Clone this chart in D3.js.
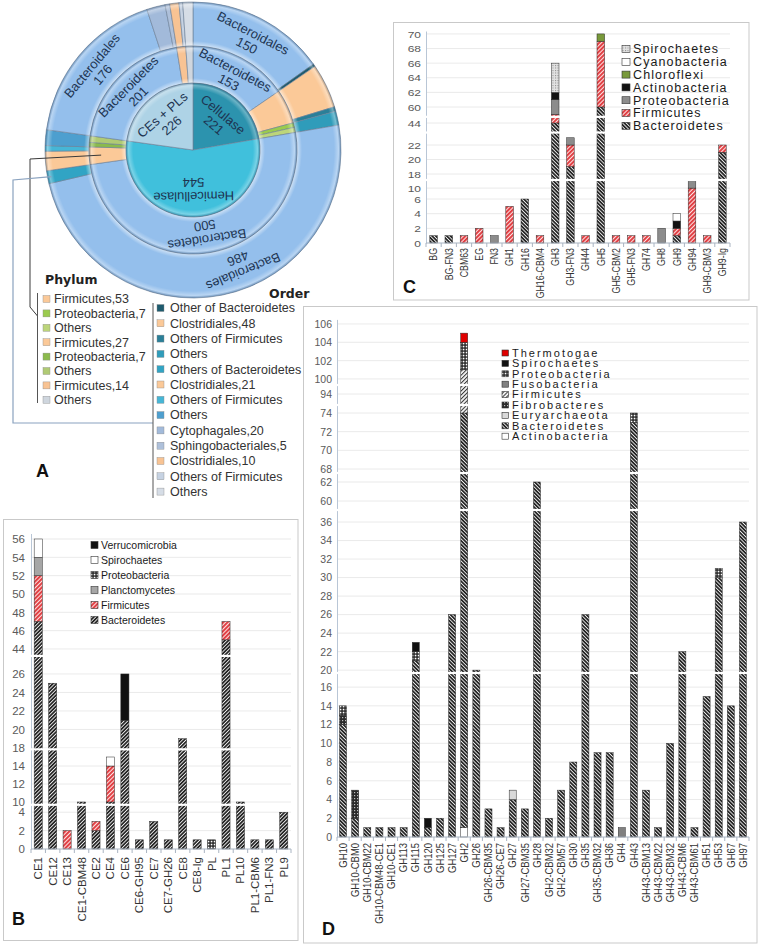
<!DOCTYPE html>
<html><head><meta charset="utf-8">
<script src="https://cdn.jsdelivr.net/npm/d3@7/dist/d3.min.js"></script>
<style>html,body{margin:0;padding:0;background:#fff;}svg{display:block;font-family:"Liberation Sans",Arial,sans-serif;}</style>
</head><body><svg id="fig" width="762" height="947"></svg>
<script>
// ================= DATA =================
// Panel A (sunburst): enzyme class -> phylum -> order
const enzymeClasses = ["Cellulase", "Hemicellulase", "CEs + PLs"];
const enzymeCounts = [221, 544, 226];
const phylumNames = ["Bacteroidetes","Firmicutes","Proteobacteria","Others",
                     "Bacteroidetes","Firmicutes","Proteobacteria","Others",
                     "Bacteroidetes","Firmicutes","Others"];
const phylumCounts = [153, 53, 7, 8, 500, 27, 7, 10, 201, 14, 11];
const orderNames = ["Bacteroidales","Other of Bacteroidetes","Clostridiales","Others of Firmicutes","Others",
                    "Bacteroidales","Others of Bacteroidetes","Clostridiales","Others of Firmicutes","Others",
                    "Bacteroidales","Cytophagales","Sphingobacteriales","Clostridiales","Others of Firmicutes","Others"];
const orderCounts = [150, 3, 48, 5, 15, 486, 14, 21, 6, 17, 176, 20, 5, 10, 4, 11];
const phylumLegend = ["Firmicutes,53","Proteobacteria,7","Others","Firmicutes,27","Proteobacteria,7","Others","Firmicutes,14","Others"];
const orderLegend = ["Other of Bacteroidetes","Clostridiales,48","Others of Firmicutes","Others","Others of Bacteroidetes","Clostridiales,21","Others of Firmicutes","Others","Cytophagales,20","Sphingobacteriales,5","Clostridiales,10","Others of Firmicutes","Others"];

// Panel B
const bCategories = ["CE1","CE12","CE13","CE1-CBM48","CE2","CE4","CE6","CE6-GH95","CE7","CE7-GH26","CE8","CE8-Ig","PL","PL1","PL10","PL1-CBM6","PL1-FN3","PL9"];
const bBacteroidetes   = [47,25,0,10,2,10,21,1,3,1,19,1,0,45,10,1,1,4];
const bFirmicutes      = [5,0,2,0,1,4,0,0,0,0,0,0,0,2,0,0,0,0];
const bPlanctomycetes  = [2,0,0,0,0,0,0,0,0,0,0,0,0,0,0,0,0,0];
const bProteobacteria  = [0,0,0,0,0,0,0,0,0,0,0,0,1,0,0,0,0,0];
const bSpirochaetes    = [2,0,0,0,0,1,0,0,0,0,0,0,0,0,0,0,0,0];
const bVerrucomicrobia = [0,0,0,0,0,0,5,0,0,0,0,0,0,0,0,0,0,0];
const bTicks = [0,2,4,10,12,14,18,20,22,24,26,44,46,48,50,52,54,56];

// Panel C
const cCategories = ["BG","BG-FN3","CBM63","EG","FN3","GH1","GH16","GH16-CBM4","GH3","GH3-FN3","GH44","GH5","GH5-CBM2","GH5-FN3","GH74","GH8","GH9","GH94","GH9-CBM3","GH9-Ig"];
const cBacteroidetes  = [1,1,0,0,0,0,6,0,44,19,0,60,0,0,0,0,1,0,0,21];
const cFirmicutes     = [0,0,1,2,0,5,0,1,15,3,1,9,1,1,1,0,1,10,1,1];
const cProteobacteria = [0,0,0,0,1,0,0,0,2,1,0,0,0,0,0,2,0,1,0,0];
const cActinobacteria = [0,0,0,0,0,0,0,0,1,0,0,0,0,0,0,0,1,0,0,0];
const cChloroflexi    = [0,0,0,0,0,0,0,0,0,0,0,1,0,0,0,0,0,0,0,0];
const cCyanobacteria  = [0,0,0,0,0,0,0,0,0,0,0,0,0,0,0,0,1,0,0,0];
const cSpirochaetes   = [0,0,0,0,0,0,0,0,4,0,0,0,0,0,0,0,0,0,0,0];
const cTicks = [0,2,4,6,10,18,20,22,44,60,62,64,66,68,70];

// Panel D
const dCategories = ["GH10","GH10-CBM0","GH10-CBM22","GH10-CBM48-CE1","GH10-CE1","GH113","GH115","GH120","GH125","GH127","GH2","GH26","GH26-CBM35","GH26-CE7","GH27","GH27-CBM35","GH28","GH2-CBM32","GH2-CBM57","GH30","GH35","GH35-CBM32","GH36","GH4","GH43","GH43-CBM13","GH43-CBM22","GH43-CBM32","GH43-CBM6","GH43-CBM61","GH51","GH53","GH67","GH97"];
const dActinobacteria = [0,0,0,0,0,0,0,0,0,0,1,0,0,0,0,0,0,0,0,0,0,0,0,0,0,0,0,0,0,0,0,0,0,0];
const dBacteroidetes  = [12,2,1,1,1,1,21,1,2,26,73,20,3,1,4,3,62,2,5,8,26,9,9,0,73,5,1,10,22,1,15,30,14,36];
const dEuryarchaeota  = [0,0,0,0,0,0,0,0,0,0,0,0,0,0,1,0,0,0,0,0,0,0,0,0,0,0,0,0,0,0,0,0,0,0];
const dFibrobacteres  = [1,3,0,0,0,0,0,0,0,0,0,0,0,0,0,0,0,0,0,0,0,0,0,0,0,0,0,0,0,0,0,0,0,0];
const dFirmicutes     = [0,0,0,0,0,0,0,0,0,0,27,0,0,0,0,0,0,0,0,0,0,0,0,0,0,0,0,0,0,0,0,0,0,0];
const dFusobacteria   = [0,0,0,0,0,0,0,0,0,0,0,0,0,0,0,0,0,0,0,0,0,0,0,1,0,0,0,0,0,0,0,0,0,0];
const dProteobacteria = [1,0,0,0,0,0,1,0,0,0,3,0,0,0,0,0,0,0,0,0,0,0,0,0,1,0,0,0,0,0,0,1,0,0];
const dSpirochaetes   = [0,0,0,0,0,0,1,1,0,0,0,0,0,0,0,0,0,0,0,0,0,0,0,0,0,0,0,0,0,0,0,0,0,0];
const dThermotogae    = [0,0,0,0,0,0,0,0,0,0,1,0,0,0,0,0,0,0,0,0,0,0,0,0,0,0,0,0,0,0,0,0,0,0];
const dTicks = [0,2,4,6,8,10,12,14,16,20,22,24,26,28,30,32,34,36,60,62,68,70,72,74,94,100,102,104,106];

// ================= STYLES =================
const enzymeColors = ["#2C93AE","#40C0DC","#AED3E6"];
const phylumColors = ["#94BFEC","#FBC998","#9BCB4E","#BCD57A","#94BFEC","#FBC998","#8BBA4C","#B0CA74","#94BFEC","#F8C393","#CFD6DE"];
const orderColors = ["#94BFEC","#1E5B6E","#FBC998","#2A7F98","#2F9CBA","#94BFEC","#31A4C4","#FBC998","#46B6D6","#4D9FCF","#94BFEC","#A2BADA","#AEC0DA","#F8C393","#C6D2E2","#D6DDE6"];

const svg = d3.select("#fig");
const defs = svg.append("defs");
function stripes(id, bg, fg, size, sw, angle){
  const p = defs.append("pattern").attr("id",id).attr("patternUnits","userSpaceOnUse")
    .attr("width",size).attr("height",size).attr("patternTransform",`rotate(${angle})`);
  p.append("rect").attr("width",size).attr("height",size).attr("fill",bg);
  p.append("rect").attr("width",sw).attr("height",size).attr("fill",fg);
}
function dots(id,bg,fg,size,ds){
  const p = defs.append("pattern").attr("id",id).attr("patternUnits","userSpaceOnUse").attr("width",size).attr("height",size);
  p.append("rect").attr("width",size).attr("height",size).attr("fill",bg);
  p.append("rect").attr("width",ds).attr("height",ds).attr("fill",fg);
}
stripes("bactF","#fff","#262626",2.6,1.8,45);
stripes("bactBk","#fff","#262626",2.6,1.8,-45);
stripes("firmR","#fde0e0","#e0393e",3,1.9,45);
stripes("firmG","#fff","#3a3a3a",2.8,1.1,45);
(function(){
  const p = defs.append("pattern").attr("id","gridP").attr("patternUnits","userSpaceOnUse").attr("width",3).attr("height",3);
  p.append("rect").attr("width",3).attr("height",3).attr("fill","#1e1e1e");
  p.append("rect").attr("x",0.7).attr("y",0.7).attr("width",1.7).attr("height",1.7).attr("fill","#fff");
})();
dots("fibro","#2a2a2a","#c0c0c0",3,1.2);
dots("spiroC","#e2e2e2","#8a8a8a",2.5,1);

// ================= BAR CHART HELPER =================
function stackedBars(cfg){
  const g = svg.append("g");
  g.append("rect").attr("x",cfg.frame[0]).attr("y",cfg.frame[1]).attr("width",cfg.frame[2]).attr("height",cfg.frame[3])
    .attr("fill","#fff").attr("stroke","#c9c9c9").attr("stroke-width",1);
  const x = d3.scaleBand().domain(cfg.cats).range(cfg.xRange).paddingInner(cfg.pad).paddingOuter(cfg.pad/2);
  const dom=[], rng=[];
  cfg.segs.forEach(s=>{dom.push(s[0],s[1]); rng.push(s[2],s[3]);});
  const y = d3.scaleLinear().domain(dom).range(rng);
  // gridlines
  g.selectAll(null).data(cfg.ticks.filter(t=>t>0)).join("line")
    .attr("x1",cfg.xRange[0]).attr("x2",cfg.xRange[1]).attr("y1",d=>y(d)).attr("y2",d=>y(d))
    .attr("stroke","#e4e4e4").attr("stroke-width",0.8);
  // y axis
  const ya = g.append("g").attr("transform",`translate(${cfg.xRange[0]},0)`)
    .call(d3.axisLeft(y).tickValues(cfg.ticks).tickSize(0).tickPadding(cfg.tickPad||5).tickFormat(d3.format("d")));
  ya.select(".domain").attr("stroke","#b9c6d6");
  ya.selectAll("text").attr("font-size",cfg.tickFont).attr("fill","#5a5a5a")
    .attr("font-family","'Liberation Sans',Arial,sans-serif")
    .attr("transform",cfg.tickScaleY?`scale(1,${cfg.tickScaleY})`:null);
  // stacked bars
  const keys = cfg.series.map(s=>s.name);
  const rows = cfg.cats.map((c,i)=>{const o={cat:c}; cfg.series.forEach(s=>o[s.name]=s.values[i]); return o;});
  const layers = d3.stack().keys(keys)(rows);
  layers.forEach((layer,li)=>{
    g.selectAll(null).data(layer.filter(d=>d[1]>d[0])).join("rect")
      .attr("x",d=>x(d.data.cat)).attr("width",x.bandwidth())
      .attr("y",d=>y(d[1])).attr("height",d=>y(d[0])-y(d[1]))
      .attr("fill",cfg.series[li].fill).attr("stroke","#2a2a2a").attr("stroke-width",0.5);
  });
  // baseline and category ticks
  const y0 = y(0);
  g.append("line").attr("x1",cfg.xRange[0]).attr("x2",cfg.xRange[1]).attr("y1",y0).attr("y2",y0).attr("stroke","#a9b4c2");
  g.selectAll(null).data(d3.range(cfg.cats.length+1)).join("line")
    .attr("x1",i=>cfg.xRange[0]+i*x.step()).attr("x2",i=>cfg.xRange[0]+i*x.step())
    .attr("y1",y0).attr("y2",y0+4).attr("stroke","#a9b4c2");
  // breaks
  for(let i=1;i<cfg.segs.length;i++){
    if(cfg.noBreak && cfg.noBreak.includes(i)) continue;
    const a = cfg.segs[i][2], b = cfg.segs[i-1][3];
    const mid=(a+b)/2, h=Math.max(2.2,b-a);
    g.append("rect").attr("x",cfg.xRange[0]-6).attr("width",cfg.xRange[1]-cfg.xRange[0]+6)
      .attr("y",mid-h/2).attr("height",h).attr("fill","#fff");
  }
  // x labels
  const sx = cfg.labelScale||1;
  const xa = g.append("g").attr("transform",`translate(0,${y0})`)
    .call(d3.axisBottom(x).tickSize(0));
  xa.select(".domain").remove();
  xa.selectAll("text").attr("font-size",cfg.labelFont).attr("fill","#333")
    .attr("font-family","'Liberation Sans',Arial,sans-serif")
    .attr("text-anchor","end").attr("y",0).attr("x",-cfg.labelOff/sx).attr("dy","0.35em")
    .attr("transform",`rotate(-90) scale(${sx},1)`);
  // legend
  const L = cfg.legend;
  const lg = g.append("g");
  L.items.forEach((nm,i)=>{
    const s = cfg.series.find(q=>q.name===nm);
    const yy = L.y + i*L.step;
    lg.append("rect").attr("x",L.x).attr("y",yy-L.mh/2).attr("width",L.mw).attr("height",L.mh)
      .attr("fill",s.fill).attr("stroke","#333").attr("stroke-width",0.6);
    lg.append("text").attr("x",L.tx).attr("y",yy).attr("dy","0.35em").attr("font-size",L.font)
      .attr("letter-spacing",L.ls||0).attr("fill","#1a1a1a").text(nm);
  });
  return {x,y,g};
}

// ================= PANEL B =================
stackedBars({
  frame:[3.5,519.5,294.5,421],
  cats:bCategories, xRange:[31,291], pad:0.44,
  segs:[[0,4.7,849,805.8],[9.8,15.8,803.8,749.8],[17.9,27.9,748.9,656.4],[43.3,56.6,655.4,533.5]],
  ticks:bTicks, tickFont:11.5, tickPad:6,
  series:[
    {name:"Bacteroidetes",values:bBacteroidetes,fill:"url(#bactF)"},
    {name:"Firmicutes",values:bFirmicutes,fill:"url(#firmR)"},
    {name:"Planctomycetes",values:bPlanctomycetes,fill:"#a6a6a6"},
    {name:"Proteobacteria",values:bProteobacteria,fill:"url(#gridP)"},
    {name:"Spirochaetes",values:bSpirochaetes,fill:"#fff"},
    {name:"Verrucomicrobia",values:bVerrucomicrobia,fill:"#111"}
  ],
  labelFont:11.5, labelOff:8,
  legend:{items:["Verrucomicrobia","Spirochaetes","Proteobacteria","Planctomycetes","Firmicutes","Bacteroidetes"],
          x:91,y:545,step:15,mw:7,mh:7,tx:101,font:10.5}
});

// ================= PANEL C =================
stackedBars({
  frame:[393.5,22.5,355.5,277.5],
  cats:cCategories, xRange:[426,730], pad:0.5,
  segs:[[0,7,243,191.7],[9.5,11.1,191.7,180.2],[17.2,23.6,179.8,133.4],[42.8,44.8,131.7,117.2],[58.7,70.4,116.5,31]],
  noBreak:[1],
  ticks:cTicks, tickFont:12, tickPad:5, tickScaleY:0.8,
  series:[
    {name:"Bacteroidetes",values:cBacteroidetes,fill:"url(#bactBk)"},
    {name:"Firmicutes",values:cFirmicutes,fill:"url(#firmR)"},
    {name:"Proteobacteria",values:cProteobacteria,fill:"#8c8c8c"},
    {name:"Actinobacteria",values:cActinobacteria,fill:"#111"},
    {name:"Chloroflexi",values:cChloroflexi,fill:"#78993a"},
    {name:"Cyanobacteria",values:cCyanobacteria,fill:"#fff"},
    {name:"Spirochaetes",values:cSpirochaetes,fill:"url(#spiroC)"}
  ],
  labelFont:11, labelOff:5, labelScale:0.8,
  legend:{items:["Spirochaetes","Cyanobacteria","Chloroflexi","Actinobacteria","Proteobacteria","Firmicutes","Bacteroidetes"],
          x:622,y:49,step:12.8,mw:8,mh:7,tx:633,font:12.5,ls:1.1}
});

// ================= PANEL D =================
stackedBars({
  frame:[303.5,306.5,453.5,636.5],
  cats:dCategories, xRange:[337,749], pad:0.42,
  segs:[[0,17.4,837,674],[19.8,37.19,672,511],[59.16,62.84,509,474],[67.68,74.75,472,406],[92.93,94.86,404,386],[99.45,106.5,384,319.4]],
  ticks:dTicks, tickFont:10.5, tickPad:5,
  series:[
    {name:"Actinobacteria",values:dActinobacteria,fill:"#fff"},
    {name:"Bacteroidetes",values:dBacteroidetes,fill:"url(#bactBk)"},
    {name:"Euryarchaeota",values:dEuryarchaeota,fill:"#d9d9d9"},
    {name:"Fibrobacteres",values:dFibrobacteres,fill:"url(#fibro)"},
    {name:"Firmicutes",values:dFirmicutes,fill:"url(#firmG)"},
    {name:"Fusobacteria",values:dFusobacteria,fill:"#808080"},
    {name:"Proteobacteria",values:dProteobacteria,fill:"url(#gridP)"},
    {name:"Spirochaetes",values:dSpirochaetes,fill:"#111"},
    {name:"Thermotogae",values:dThermotogae,fill:"#e00000"}
  ],
  labelFont:10.5, labelOff:6, labelScale:0.9,
  legend:{items:["Thermotogae","Spirochaetes","Proteobacteria","Fusobacteria","Firmicutes","Fibrobacteres","Euryarchaeota","Bacteroidetes","Actinobacteria"],
          x:502,y:353,step:10.4,mw:6.5,mh:6,tx:512,font:11,ls:2}
});

// ================= PANEL A =================
const cx=193, cy=150, R=[0,67,104,148];
const gA = svg.append("g").attr("transform",`translate(${cx},${cy})`);
const pie = d3.pie().sort(null).value(d=>d);
const innerArcs = pie(enzymeCounts), phylumArcs = pie(phylumCounts), orderArcs = pie(orderCounts);
function ring(arcs, colors, r0, r1){
  const arc = d3.arc().innerRadius(r0).outerRadius(r1);
  gA.append("g").selectAll("path").data(arcs).join("path")
    .attr("d",arc).attr("fill",(d,i)=>colors[i]).attr("stroke","#6a7d96").attr("stroke-width",0.6);
}
function bevel(id, r0, r1){
  const gr = defs.append("radialGradient").attr("id",id).attr("gradientUnits","userSpaceOnUse")
    .attr("cx",0).attr("cy",0).attr("r",r1).attr("fx",0).attr("fy",0);
  const st = r0>0 ? [[r0/r1,"#fff",0.55],[(r0+5)/r1,"#fff",0],[(r1-7)/r1,"#fff",0],[(r1-2.5)/r1,"#fff",0.35],[1,"#14304f",0.3]]
                  : [[0,"#fff",0],[(r1-7)/r1,"#fff",0],[(r1-2.5)/r1,"#fff",0.3],[1,"#14304f",0.3]];
  st.forEach(s=>gr.append("stop").attr("offset",s[0]).attr("stop-color",s[1]).attr("stop-opacity",s[2]));
  gA.append("path")
    .attr("d",d3.arc().innerRadius(r0).outerRadius(r1).startAngle(0).endAngle(2*Math.PI)())
    .attr("fill",`url(#${id})`).attr("pointer-events","none");
}
ring(orderArcs, orderColors, R[2], R[3]);
bevel("bvO", R[2], R[3]);
ring(phylumArcs, phylumColors, R[1], R[2]);
bevel("bvP", R[1], R[2]);
ring(innerArcs, enzymeColors, R[0], R[1]);
bevel("bvI", R[0], R[1]);

function arcLabel(a, r, name, value, shiftDeg){
  const mid = (a.startAngle+a.endAngle)/2 + (shiftDeg||0)*Math.PI/180;
  const px = r*Math.sin(mid), py = -r*Math.cos(mid);
  let deg = mid*180/Math.PI; if(deg>270) deg-=360;
  const t = gA.append("g").attr("transform",`translate(${px},${py}) rotate(${deg})`);
  t.append("text").attr("text-anchor","middle").attr("y",-2).attr("font-size",13).attr("fill","#1e3552").text(name);
  t.append("text").attr("text-anchor","middle").attr("y",12).attr("font-size",13).attr("fill","#1e3552").text(value);
}
innerArcs.forEach((a,i)=>arcLabel(a, 40, enzymeClasses[i], enzymeCounts[i]));
phylumArcs.forEach((a,i)=>{ if(phylumNames[i]==="Bacteroidetes") arcLabel(a, 84, phylumNames[i], phylumCounts[i]); });
orderArcs.forEach((a,i)=>{ if(orderNames[i]==="Bacteroidales") arcLabel(a, 125, orderNames[i], orderCounts[i], orderCounts[i]>300?-11:0); });

// leader lines (page coordinates)
const gL = svg.append("g");
function ptOnArc(a, r){ const m=(a.startAngle+a.endAngle)/2; return [cx+r*Math.sin(m), cy-r*Math.cos(m)]; }
const p1 = ptOnArc(phylumArcs[5], 92);
const p2 = ptOnArc(orderArcs[6], 144);
const ln = d3.line();
gL.append("path").attr("d",ln([p1,[30,159],[30,307],[37.5,316]])).attr("fill","none").attr("stroke","#3a3a3a").attr("stroke-width",1);
gL.append("path").attr("d",ln([p2,[13,180],[13,423],[153,423]])).attr("fill","none").attr("stroke","#8aa2bf").attr("stroke-width",1.2);
gL.append("line").attr("x1",37.5).attr("x2",37.5).attr("y1",293).attr("y2",403).attr("stroke","#555");
gL.append("line").attr("x1",153).attr("x2",153).attr("y1",303).attr("y2",498).attr("stroke","#555");

// legends
const phylumLegendColors = phylumColors.filter((c,i)=>phylumNames[i]!=="Bacteroidetes");
const orderLegendColors = orderColors.filter((c,i)=>orderNames[i]!=="Bacteroidales");
gL.append("text").attr("x",45).attr("y",284).attr("font-family","'DejaVu Sans',sans-serif").attr("font-weight","bold").attr("font-size",12.5).attr("fill","#222").text("Phylum");
phylumLegend.forEach((t,i)=>{
  const yy = 299 + i*14.4;
  gL.append("rect").attr("x",43).attr("y",yy-3.5).attr("width",7).attr("height",7).attr("fill",phylumLegendColors[i]).attr("stroke","#8a8a8a").attr("stroke-width",0.4);
  gL.append("text").attr("x",54).attr("y",yy).attr("dy","0.35em").attr("font-size",12.5).attr("fill","#333").text(t);
});
gL.append("text").attr("x",269).attr("y",298).attr("font-family","'DejaVu Sans',sans-serif").attr("font-weight","bold").attr("font-size",12.5).attr("fill","#222").text("Order");
orderLegend.forEach((t,i)=>{
  const yy = 308 + i*15.3;
  gL.append("rect").attr("x",157).attr("y",yy-3.5).attr("width",7).attr("height",7).attr("fill",orderLegendColors[i]).attr("stroke","#8a8a8a").attr("stroke-width",0.4);
  gL.append("text").attr("x",170).attr("y",yy).attr("dy","0.35em").attr("font-size",12.5).attr("fill","#333").text(t);
});

// panel letters
[["A",36,477],["B",12,925],["C",403,293],["D",322,935]].forEach(p=>{
  svg.append("text").attr("x",p[1]).attr("y",p[2]).attr("font-size",18).attr("font-weight","bold").attr("fill","#111").text(p[0]);
});
</script></body></html>
